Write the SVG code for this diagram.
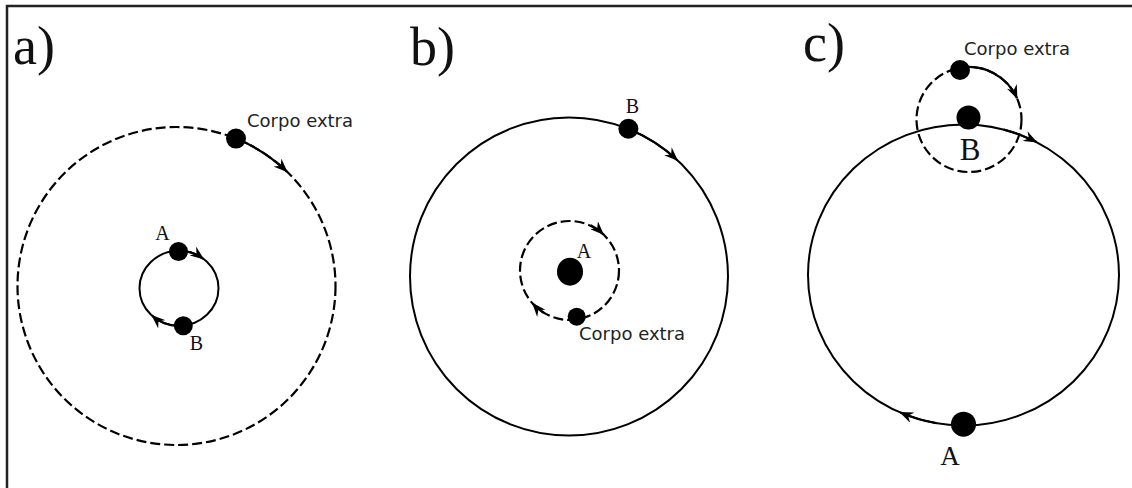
<svg xmlns="http://www.w3.org/2000/svg" width="1132" height="488" viewBox="0 0 1132 488">
<defs>
<marker id="arr" markerUnits="userSpaceOnUse" viewBox="0 0 14 11" refX="13" refY="5.5" markerWidth="14" markerHeight="11" orient="auto">
<path d="M14,5.5 L0,0 L4.5,5.5 L0,11 Z" fill="#000"/>
</marker>
<style>
.orb{fill:none;stroke:#000;stroke-width:2}
.dash{fill:none;stroke:#000;stroke-width:2.2;stroke-dasharray:10 4}
.arc{fill:none;stroke:#000;stroke-width:2.2;marker-end:url(#arr)}
.dot{fill:#000}
.title{font-family:"Liberation Serif",serif;font-size:54px;fill:#111}
.lbl{font-family:"Liberation Serif",serif;fill:#111;text-anchor:middle}
.ce{font-family:"DejaVu Sans",sans-serif;font-size:18px;fill:#222}
</style>
</defs>
<rect width="1132" height="488" fill="#fff"/>
<path d="M7,488 V6 H1132" fill="none" stroke="#222" stroke-width="2.5"/>

<g id="panel-a">
<text class="title" x="13" y="64">a)</text>
<g id="a-outer-orbit"><circle class="dash" cx="176.5" cy="286" r="159"/></g>
<g id="a-inner-orbit"><ellipse class="orb" cx="179" cy="288.3" rx="39.5" ry="37.5"/></g>
<g id="a-extra"><circle class="dot" cx="236" cy="138.6" r="10"/><text class="ce" x="247" y="127">Corpo extra</text></g>
<g id="a-A"><circle class="dot" cx="178.5" cy="251.5" r="9.5"/><text class="lbl" x="162.5" y="240" font-size="20">A</text></g>
<g id="a-B"><circle class="dot" cx="183.3" cy="325.7" r="9.5"/><text class="lbl" x="196.5" y="350" font-size="20">B</text></g>
</g>

<g id="panel-b">
<text class="title" x="410" y="65">b)</text>
<g id="b-outer-orbit"><circle class="orb" cx="569" cy="276.5" r="159" stroke-width="1.8"/></g>
<g id="b-inner-orbit"><circle class="dash" cx="569.5" cy="270.5" r="49.5" stroke-width="2.5"/></g>
<g id="b-B"><circle class="dot" cx="628.4" cy="128.8" r="10"/><text class="lbl" x="632.5" y="113" font-size="20">B</text></g>
<g id="b-A"><ellipse class="dot" cx="570" cy="271.7" rx="13" ry="14"/><text class="lbl" x="584" y="258" font-size="20">A</text></g>
<g id="b-extra"><circle class="dot" cx="576.7" cy="316.7" r="9"/><text class="ce" x="579" y="340">Corpo extra</text></g>
</g>

<g id="panel-c">
<text class="title" x="803" y="61">c)</text>
<g id="c-big-orbit"><ellipse class="orb" cx="963.5" cy="275" rx="155.5" ry="150.5" stroke-width="2.5"/></g>
<g id="c-small-orbit"><circle class="dash" cx="969" cy="119.5" r="52.5"/></g>
<g id="c-extra"><circle class="dot" cx="960" cy="70" r="10"/><text class="ce" x="964" y="55">Corpo extra</text></g>
<g id="c-B"><circle class="dot" cx="968.5" cy="117.5" r="12"/><text class="lbl" x="970" y="160" font-size="31">B</text></g>
<g id="c-A"><circle class="dot" cx="963.5" cy="424.2" r="12.5"/><text class="lbl" x="950" y="465" font-size="27">A</text></g>
</g>

<g id="connectors">
<path class="arc" d="M236.1,138.6 A159,159 0 0 1 286.9,171.6"/>
<path class="arc" d="M179,250.8 A39.5,37.5 0 0 1 203.3,258.8"/>
<path class="arc" d="M183.8,325.5 A39.5,37.5 0 0 1 152.1,315.7"/>
<path class="arc" d="M628.6,129.1 A159,159 0 0 1 677.4,160.2" stroke-width="1.8"/>
<path class="arc" d="M590.7,225.3 A49.5,49.5 0 0 1 603.3,234.3" stroke-width="2.5"/>
<path class="arc" d="M543.6,312.8 A49.5,49.5 0 0 1 532.7,303.6" stroke-width="2.5"/>
<path class="arc" d="M1003.7,129.6 A155.5,150.5 0 0 1 1036.5,142.1" stroke-width="2.5"/>
<path class="arc" d="M936.5,423.2 A155.5,150.5 0 0 1 900.3,412.5" stroke-width="2.5"/>
<path class="arc" d="M959.9,67.8 A52.5,52.5 0 0 1 1017,98.2" stroke-width="2.5"/>
</g>
</svg>
